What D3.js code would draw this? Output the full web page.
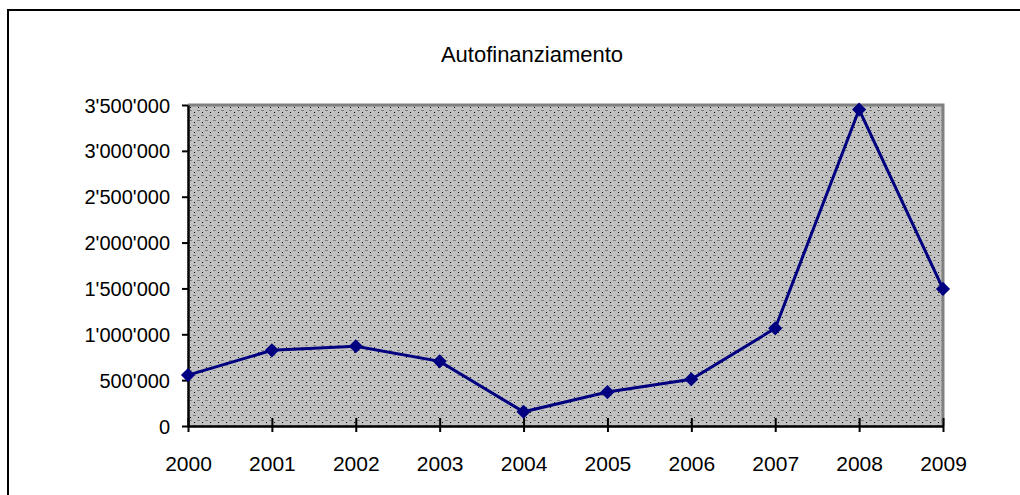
<!DOCTYPE html>
<html>
<head>
<meta charset="utf-8">
<script src="https://cdn.jsdelivr.net/npm/d3@7"></script>
<style>
  body { margin: 0; background: #fff; }
  text { font-family: "Liberation Sans", Arial, sans-serif; fill: #000; }
</style>
</head>
<body>
<svg id="chart" width="1020" height="495"></svg>
<script>
const years = [2000, 2001, 2002, 2003, 2004, 2005, 2006, 2007, 2008, 2009];
const values = [555000, 825000, 870000, 705000, 155000, 370000, 510000, 1065000, 3450000, 1495000];
const yTicks = [0, 500000, 1000000, 1500000, 2000000, 2500000, 3000000, 3500000];
const title = "Autofinanziamento";

const svg = d3.select("#chart"),
    margin = { top: 105, right: 77, bottom: 69, left: 188 },
    width = +svg.attr("width") - margin.left - margin.right,
    height = +svg.attr("height") - margin.top - margin.bottom;

// dotted fill like the old excel plot area
const defs = svg.append("defs");
const pat = defs.append("pattern")
    .attr("id", "dots")
    .attr("patternUnits", "userSpaceOnUse")
    .attr("width", 8)
    .attr("height", 10);
pat.append("rect").attr("width", 8).attr("height", 10).attr("fill", "#c0c0c0");
pat.append("rect").attr("x", 5).attr("y", 0).attr("width", 3).attr("height", 1).attr("fill", "#808080");
pat.append("rect").attr("x", 2).attr("y", 2).attr("width", 1).attr("height", 1).attr("fill", "#000");
pat.append("rect").attr("x", 1).attr("y", 5).attr("width", 3).attr("height", 1).attr("fill", "#808080");
pat.append("rect").attr("x", 6).attr("y", 7).attr("width", 1).attr("height", 1).attr("fill", "#000");

// outer frame (runs off the right and bottom edges)
svg.append("rect")
    .attr("x", 8).attr("y", 10)
    .attr("width", 1100).attr("height", 600)
    .attr("fill", "none")
    .attr("stroke", "#000")
    .attr("stroke-width", 2);

svg.append("text")
    .attr("x", 532).attr("y", 62)
    .attr("text-anchor", "middle")
    .style("font-size", "22px")
    .text(title);

const g = svg.append("g")
    .attr("transform", "translate(" + margin.left + "," + margin.top + ")");

const x = d3.scaleLinear().domain([years[0], years[years.length - 1]]).range([0, width]);
const y = d3.scaleLinear().domain([0, 3500000]).range([height, 0]);

g.append("rect")
    .attr("width", width).attr("height", height)
    .attr("fill", "url(#dots)");

// grey border top/right of plot area
g.append("path")
    .attr("d", "M0,0H" + width + "V" + height)
    .attr("fill", "none")
    .attr("stroke", "#808080")
    .attr("stroke-width", 3);

const fmt = d => d3.format(",")(d).replace(/,/g, "'");

const yAxis = g.append("g")
    .call(d3.axisLeft(y).tickValues(yTicks).tickFormat(fmt).tickSize(6).tickSizeOuter(0).tickPadding(12));
yAxis.select(".domain").attr("stroke", "#000").attr("stroke-width", 2.5);
yAxis.selectAll(".tick line").attr("stroke", "#000").attr("stroke-width", 2);
yAxis.selectAll("text").style("font-size", "20px").attr("dy", "0.35em");

const xAxis = g.append("g")
    .attr("transform", "translate(0," + height + ")")
    .call(d3.axisBottom(x).tickValues(years).tickFormat(d3.format("d")).tickSize(6).tickSizeOuter(0).tickPadding(24));
xAxis.select(".domain").attr("stroke", "#000").attr("stroke-width", 2.5);
xAxis.selectAll(".tick line").attr("stroke", "#000").attr("stroke-width", 2).attr("y1", -8);
xAxis.selectAll("text").style("font-size", "21px");

const line = d3.line()
    .x(function (d, i) { return x(years[i]); })
    .y(function (d) { return y(d); });

g.append("path")
    .datum(values)
    .attr("d", line)
    .attr("fill", "none")
    .attr("stroke", "#000080")
    .attr("stroke-width", 3);

g.selectAll(".pt")
    .data(values)
    .enter()
    .append("path")
    .attr("class", "pt")
    .attr("d", d3.symbol().type(d3.symbolSquare).size(100))
    .attr("transform", function (d, i) {
        return "translate(" + x(years[i]) + "," + y(d) + ") rotate(45)";
    })
    .attr("fill", "#000080");
</script>
</body>
</html>
